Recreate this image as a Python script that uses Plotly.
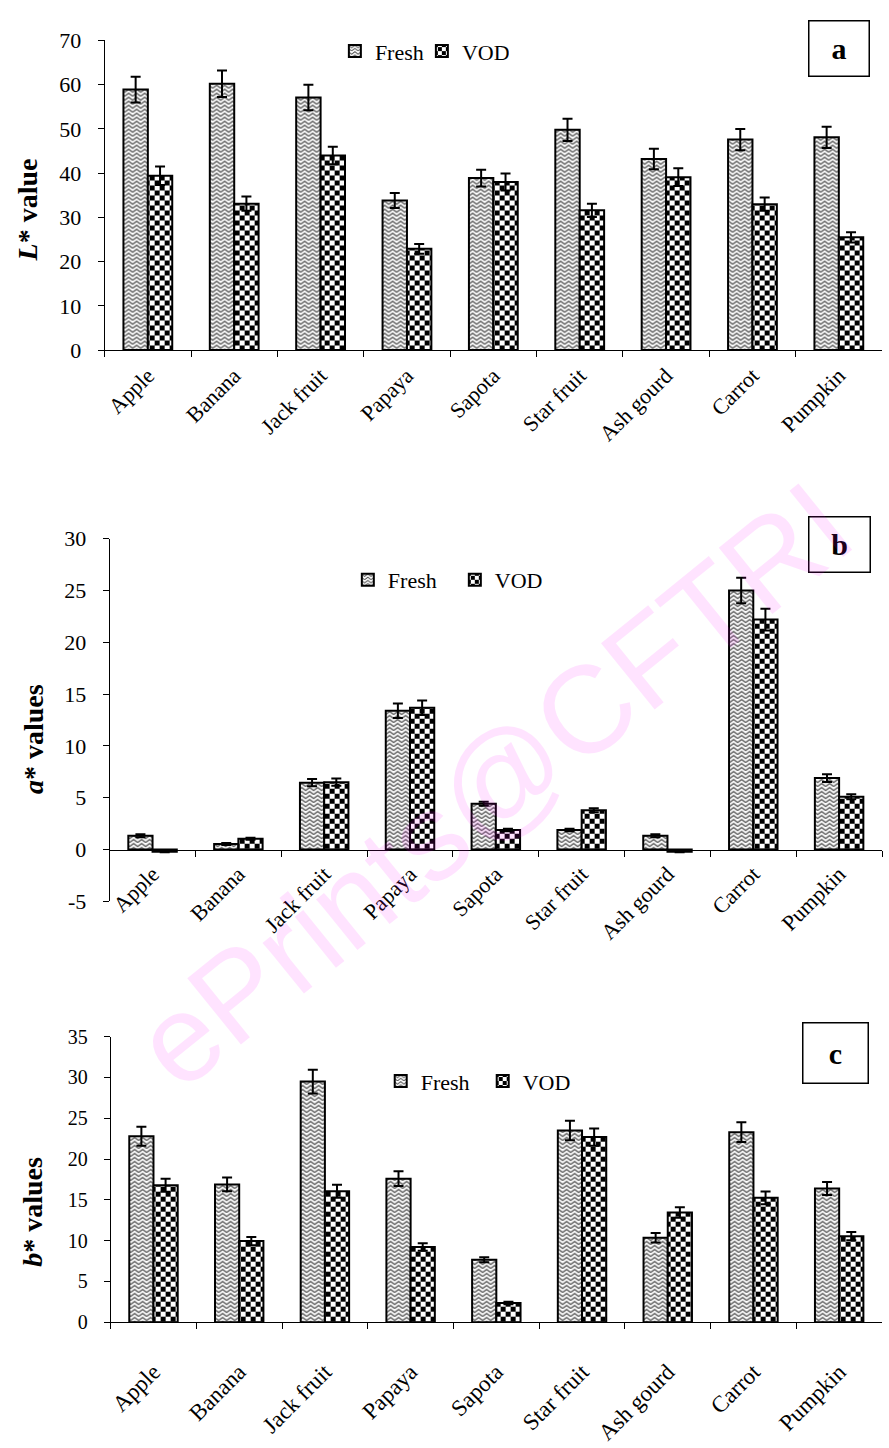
import plotly.graph_objects as go

# ---------------------------------------------------------------- data
fruits = ["Apple", "Banana", "Jack fruit", "Papaya", "Sapota",
          "Star fruit", "Ash gourd", "Carrot", "Pumpkin"]

L_fresh = [58.9, 60.2, 57.1, 33.8, 38.9, 49.8, 43.2, 47.6, 48.1]
L_fresh_err = [2.9, 3.0, 2.9, 1.7, 1.9, 2.5, 2.3, 2.4, 2.4]
L_vod = [39.4, 33.1, 44.0, 22.9, 38.0, 31.6, 39.1, 33.0, 25.5]
L_vod_err = [2.1, 1.6, 2.0, 1.1, 1.9, 1.5, 2.0, 1.5, 1.15]

a_fresh = [1.33, 0.53, 6.45, 13.4, 4.42, 1.9, 1.33, 25.0, 6.9]
a_fresh_err = [0.15, 0.1, 0.35, 0.7, 0.2, 0.12, 0.15, 1.23, 0.38]
a_vod = [-0.2, 1.04, 6.5, 13.7, 1.9, 3.8, -0.2, 22.2, 5.1]
a_vod_err = [0.05, 0.1, 0.35, 0.7, 0.12, 0.2, 0.05, 1.05, 0.25]

b_fresh = [22.8, 16.9, 29.5, 17.6, 7.66, 23.5, 10.36, 23.3, 16.4]
b_fresh_err = [1.15, 0.85, 1.45, 0.9, 0.3, 1.2, 0.58, 1.22, 0.8]
b_vod = [16.8, 9.95, 16.06, 9.23, 2.36, 22.7, 13.45, 15.25, 10.55]
b_vod_err = [0.8, 0.5, 0.8, 0.45, 0.15, 1.05, 0.64, 0.78, 0.5]

series_names = ["Fresh", "VOD"]

# y tick values for the a* panel (hyphen minus as printed)
a_ticks = [-5, 0, 5, 10, 15, 20, 25, 30]
a_ticktext = ["-5", "0", "5", "10", "15", "20", "25", "30"]

# ---------------------------------------------------------------- page geometry
W, H = 889, 1448
SERIF = "Liberation Serif"


def px_x(p):
    return p / W


def px_y(p):
    return 1 - p / H


# ---------------------------------------------------------------- fill patterns
ZIGZAG = ("M0,0L4,3L8,0L8,1.5L4,4.5L0,1.5Z"
          "M0,4L4,7L8,4L8,5.5L4,8.5L0,5.5Z")
CHECKER = "M0,0H5V5H0ZM5,5H10V10H5Z"

try:
    go.bar.marker.Pattern(path=CHECKER)
    fresh_pattern = dict(path=ZIGZAG, size=8, fgcolor="#404040",
                         bgcolor="white", fillmode="replace")
    vod_pattern = dict(path=CHECKER, size=10, fgcolor="black",
                       bgcolor="white", fillmode="replace")
except (ValueError, TypeError):
    fresh_pattern = dict(shape="x", size=6, solidity=0.3, fgcolor="#404040",
                         bgcolor="white", fillmode="replace")
    vod_pattern = dict(shape="+", size=10, solidity=0.55, fgcolor="black",
                       bgcolor="white", fillmode="replace")

patterns = [fresh_pattern, vod_pattern]

panels = [
    dict(vals=[L_fresh, L_vod], errs=[L_fresh_err, L_vod_err], legend="legend"),
    dict(vals=[a_fresh, a_vod], errs=[a_fresh_err, a_vod_err], legend="legend2"),
    dict(vals=[b_fresh, b_vod], errs=[b_fresh_err, b_vod_err], legend="legend3"),
]

fig = go.Figure()
for i, panel in enumerate(panels):
    sfx = "" if i == 0 else str(i + 1)
    for name, vals, errs, pat in zip(series_names, panel["vals"],
                                     panel["errs"], patterns):
        fig.add_trace(go.Bar(
            x=fruits, y=vals, name=name,
            xaxis="x" + sfx, yaxis="y" + sfx,
            legend=panel["legend"],
            marker=dict(color="white", pattern=pat,
                        line=dict(color="black", width=2)),
            error_y=dict(type="data", array=errs, visible=True,
                         color="black", thickness=2, width=5),
        ))

# ---------------------------------------------------------------- axes
tick_font = dict(family=SERIF, size=22, color="black")
title_font = dict(family=SERIF, size=28, color="black")

xcommon = dict(type="category", showline=True, linecolor="black", linewidth=1,
               ticks="outside", ticklen=6, tickcolor="black", tickwidth=1,
               tickson="boundaries", tickangle=-45, showgrid=False,
               zeroline=False, tickfont=tick_font, fixedrange=True)
ycommon = dict(showline=True, linecolor="black", linewidth=1,
               ticks="outside", ticklen=6, tickcolor="black", tickwidth=1,
               showgrid=False, zeroline=False, tickfont=tick_font,
               ticklabelstandoff=12, fixedrange=True)

layout_axes = {
    "xaxis": dict(xcommon, domain=[px_x(102), px_x(882)], anchor="y",
                  ticklabelstandoff=3),
    "yaxis": dict(ycommon, domain=[px_y(344), px_y(29)], anchor="x",
                  range=[0, 70], dtick=10),
    "xaxis2": dict(xcommon, domain=[px_x(107), px_x(882)], anchor="free",
                   position=px_y(852.3), ticklabelstandoff=2),
    "yaxis2": dict(ycommon, domain=[px_y(905), px_y(536)], anchor="x2",
                   range=[-5, 30], tickmode="array", tickvals=a_ticks,
                   ticktext=a_ticktext),
    "xaxis3": dict(xcommon, domain=[px_x(108), px_x(882)], anchor="y3",
                   ticklabelstandoff=26, tickfont=dict(tick_font, size=23)),
    "yaxis3": dict(ycommon, domain=[px_y(1333.3), px_y(1042.7)], anchor="x3",
                   range=[0, 35], dtick=5, tickfont=dict(tick_font, size=20)),
}

# ---------------------------------------------------------------- legends
legend_common = dict(orientation="h", xanchor="left", yanchor="middle",
                     bgcolor="rgba(0,0,0,0)", borderwidth=0,
                     font=dict(family=SERIF, size=22, color="black"),
                     itemwidth=30, entrywidthmode="pixels")
legends = {
    "legend": dict(legend_common, x=px_x(333), y=px_y(40), entrywidth=42),
    "legend2": dict(legend_common, x=px_x(346), y=px_y(578), entrywidth=62),
    "legend3": dict(legend_common, x=px_x(379), y=px_y(1088), entrywidth=57),
}

# ---------------------------------------------------------------- titles, panel letters and watermark
annotations = []
for title, cx, cy in [("<b><i>L</i>* value</b>", 25, 201),
                      ("<b><i>a</i>* values</b>", 30, 740),
                      ("<b><i>b</i>* values</b>", 30, 1221)]:
    annotations.append(dict(
        text=title, xref="paper", yref="paper", x=px_x(cx), y=px_y(cy),
        xanchor="center", yanchor="middle", showarrow=False, textangle=-90,
        font=title_font))

for letter, cx, cy, bw, bh in [("a", 838.5, 37, 57, 52),
                               ("b", 839, 542, 58, 52),
                               ("c", 835, 1059.5, 62, 57)]:
    annotations.append(dict(
        text="<b>%s</b>" % letter, xref="paper", yref="paper",
        x=px_x(cx), y=px_y(cy), xanchor="center", yanchor="middle",
        showarrow=False, width=bw, height=bh, bordercolor="black",
        borderwidth=1.5, bgcolor="white",
        font=dict(family=SERIF, size=30, color="black")))

annotations.append(dict(
    text="ePrints@CFTRI", xref="paper", yref="paper",
    x=px_x(492), y=px_y(787), xanchor="center", yanchor="middle",
    showarrow=False, textangle=-39,
    font=dict(family="Liberation Sans", size=124,
              color="rgba(255,0,255,0.11)")))

fig.update_layout(
    width=W, height=H, margin=dict(l=0, r=0, t=0, b=0),
    paper_bgcolor="white", plot_bgcolor="white",
    barmode="group", bargap=0.435, bargroupgap=0,
    showlegend=True, annotations=annotations,
    **layout_axes, **legends,
)

fig.write_html("out.html")
